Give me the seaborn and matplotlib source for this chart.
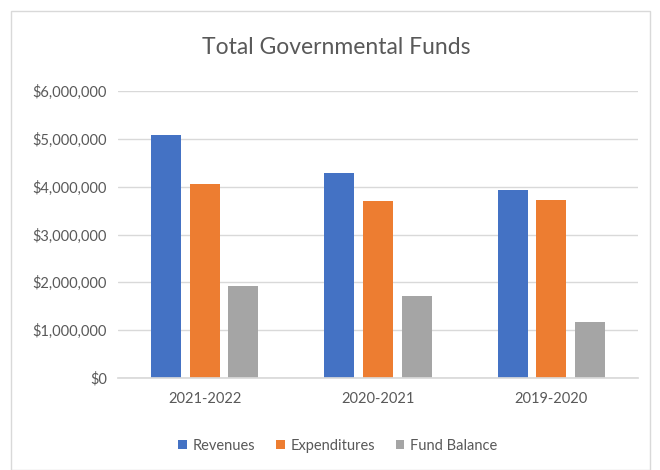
import matplotlib
matplotlib.use("Agg")
import matplotlib.pyplot as plt
import seaborn as sns
import pandas as pd
from matplotlib.patches import Rectangle
from matplotlib.ticker import FuncFormatter

categories = ["2021-2022", "2020-2021", "2019-2020"]
series = ["Revenues", "Expenditures", "Fund Balance"]
revenues = [5080000, 4290000, 3940000]
expenditures = [4060000, 3710000, 3730000]
fund_balance = [1920000, 1710000, 1170000]
colors = ["#4472C4", "#ED7D31", "#A5A5A5"]

rows = []
for s, vals in zip(series, [revenues, expenditures, fund_balance]):
    for c, v in zip(categories, vals):
        rows.append({"Year": c, "Series": s, "Value": v})
df = pd.DataFrame(rows)

sns.set_theme(style="white")
plt.rcParams["font.family"] = ["Lato", "DejaVu Sans"]

fig = plt.figure(figsize=(6.6, 4.7), dpi=100)
ax = fig.add_axes([118/660, 1-378/470, 520/660, 287/470])

sns.barplot(data=df, x="Year", y="Value", hue="Series", order=categories,
            hue_order=series, palette=colors, width=0.67, gap=0.22,
            saturation=1, ax=ax, legend=True, edgecolor="none")

ax.set_ylim(0, 6000000)
ax.set_yticks(range(0, 6000001, 1000000))
ax.yaxis.set_major_formatter(FuncFormatter(lambda v, p: "${:,.0f}".format(v)))
ax.grid(axis="y", color="#D9D9D9", linewidth=1)
ax.set_axisbelow(True)
for sp in ["top", "right", "left"]:
    ax.spines[sp].set_visible(False)
ax.spines["bottom"].set_color("#D9D9D9")
ax.tick_params(axis="both", length=0, colors="#595959", labelsize=10.5)
ax.tick_params(axis="x", pad=10)
ax.tick_params(axis="y", pad=8)
ax.set_xlabel("")
ax.set_ylabel("")

fig.text(336/660, 1-47/470, "Total Governmental Funds", ha="center", va="center",
         fontsize=16.5, color="#595959")

h, l = ax.get_legend_handles_labels()
ax.get_legend().remove()
fig.legend(h, l, loc="center", bbox_to_anchor=(338/660, 1-446/470), ncol=3,
           frameon=False, fontsize=10.5, labelcolor="#595959",
           handlelength=0.6, handleheight=0.6, handletextpad=0.4, columnspacing=1.4)

fig.patches.append(Rectangle((11/660, 0), 639/660, 1-11/470, transform=fig.transFigure,
                             fill=False, edgecolor="#D9D9D9", linewidth=1))

fig.savefig("out.png", dpi=100)
